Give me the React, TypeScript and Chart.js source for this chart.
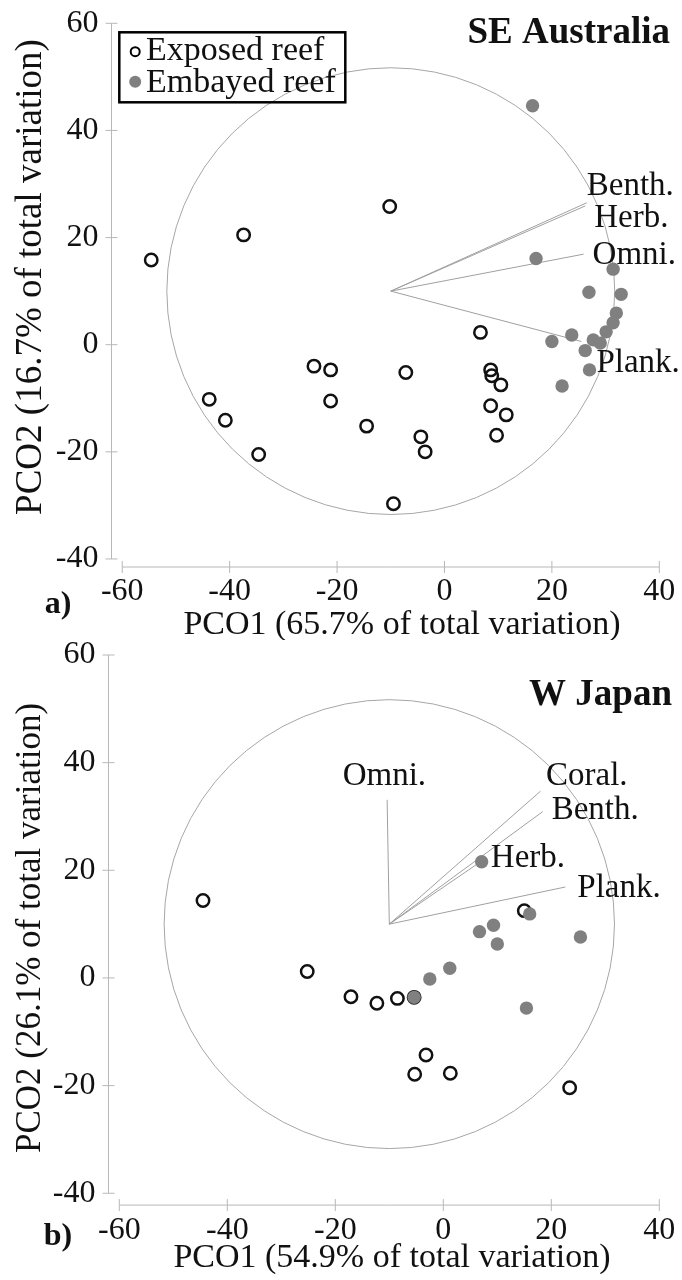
import React, { useEffect, useRef } from "react";
import { Chart, registerables } from "chart.js";

Chart.register(...registerables);

// ---------- shared tick values ----------
const X_TICKS = [-60, -40, -20, 0, 20, 40];
const Y_TICKS = [-40, -20, 0, 20, 40, 60];

// correlation circle / vector origin (data units)
const ORIGIN_X = -10;
const ORIGIN_Y = 10;
const CIRCLE_R = 41.7;

// ---------- a) SE Australia ----------
const AUS_EXPOSED_X = [6.7, -24.3, -21.2, -7.2, 8.6, 8.8, 10.5, -43.8, -21.2, 8.6, 11.5, -40.8, -14.5, -4.4, 9.7, -3.6, -34.6, -9.5, -10.2, -37.4, -54.6];
const AUS_EXPOSED_Y = [2.3, -4.0, -4.7, -5.2, -4.7, -5.8, -7.5, -10.2, -10.5, -11.4, -13.1, -14.1, -15.2, -17.2, -16.9, -20.0, -20.5, -29.7, 25.8, 20.5, 15.8];
const AUS_EMBAYED_X = [16.4, 17.05, 31.4, 26.9, 32.9, 32.0, 31.4, 30.1, 23.7, 20.0, 27.7, 29.0, 26.2, 27.0, 21.9];
const AUS_EMBAYED_Y = [44.6, 16.1, 14.1, 9.8, 9.4, 5.9, 4.1, 2.4, 1.8, 0.6, 0.9, 0.3, -1.1, -4.7, -7.7];
const AUS_VECTORS = ["Benth.", "Herb.", "Omni.", "Plank."];
const AUS_VECTOR_X = [26.5, 26.2, 25.9, 25.5];
const AUS_VECTOR_Y = [26.5, 25.9, 16.9, 0.6];

// ---------- b) W Japan ----------
const JPN_EXPOSED_X = [-44.5, 15.0, -25.2, -17.1, -12.3, -8.5, -5.4, -3.2, -5.3, 1.3, 23.4];
const JPN_EXPOSED_Y = [14.4, 12.5, 1.2, -3.5, -4.7, -3.8, -3.6, -14.3, -17.9, -17.7, -20.4];
const JPN_EMBAYED_X = [7.1, 16.0, 9.3, 6.7, 10.0, 25.4, 1.2, -2.5, -5.4, 15.4];
const JPN_EMBAYED_Y = [21.6, 11.9, 9.8, 8.6, 6.3, 7.6, 1.8, -0.2, -3.6, -5.6];
const JPN_VECTORS = ["Omni.", "Coral.", "Benth.", "Herb.", "Plank."];
const JPN_VECTOR_X = [-10.4, 18.0, 18.4, 7.5, 22.6];
const JPN_VECTOR_Y = [33.1, 34.7, 30.9, 22.0, 16.9];

const LEGEND_LABELS = ["Exposed reef", "Embayed reef"];

// ---------- styles ----------
const SERIF = "'Liberation Serif', 'Times New Roman', serif";
const TEXT = "#111111";
const AXIS_COLOR = "#b8b8b8";
const CIRCLE_COLOR = "#a6a6a6";
const VECTOR_COLOR = "#a0a0a0";
const GREY_DOT = "#808080";

type Panel = {
  key: string;
  top: number;
  pad: { left: number; right: number; top: number; bottom: number };
  xMin: number; xMax: number; yMin: number; yMax: number;
  exposedX: number[]; exposedY: number[]; embayedX: number[]; embayedY: number[];
  vectors: string[]; vecX: number[]; vecY: number[];
  labelDx: number[]; labelDy: number[];
  title: string; titleRight: number; titleBaseline: number;
  xTitle: string; xTitleX: number; xTitleY: number;
  yTitle: string; yTitleX: number; yTitleY: number; yTitleSize: number;
  panelLabel: string; panelX: number; panelY: number;
  showLegend: boolean;
};

const PANELS: Panel[] = [
  {
    key: "aus", top: 0,
    pad: { left: 111.5, right: 22.7, top: 23.3, bottom: 73 },
    xMin: -62, xMax: 40, yMin: -41.5, yMax: 60,
    exposedX: AUS_EXPOSED_X, exposedY: AUS_EXPOSED_Y, embayedX: AUS_EMBAYED_X, embayedY: AUS_EMBAYED_Y,
    vectors: AUS_VECTORS, vecX: AUS_VECTOR_X, vecY: AUS_VECTOR_Y,
    labelDx: [0, 9, 9, 15], labelDy: [-16, 12, 1, 22],
    title: "SE Australia", titleRight: 670, titleBaseline: 43,
    xTitle: "PCO1 (65.7% of total variation)", xTitleX: 402, xTitleY: 625,
    yTitle: "PCO2 (16.7% of total variation)", yTitleX: 31, yTitleY: 277, yTitleSize: 37,
    panelLabel: "a)", panelX: 58, panelY: 605,
    showLegend: true,
  },
  {
    key: "jpn", top: 640,
    pad: { left: 108.5, right: 22.7, top: 15, bottom: 74.9 },
    xMin: -62, xMax: 40, yMin: -42.2, yMax: 60,
    exposedX: JPN_EXPOSED_X, exposedY: JPN_EXPOSED_Y, embayedX: JPN_EMBAYED_X, embayedY: JPN_EMBAYED_Y,
    vectors: JPN_VECTORS, vecX: JPN_VECTOR_X, vecY: JPN_VECTOR_Y,
    labelDx: [-44.5, 5.5, 9, 7, 12], labelDy: [-23, -14.5, -1, -1, 1],
    title: "W Japan", titleRight: 672, titleBaseline: 65,
    xTitle: "PCO1 (54.9% of total variation)", xTitleX: 392, xTitleY: 618,
    yTitle: "PCO2 (26.1% of total variation)", yTitleX: 31, yTitleY: 288, yTitleSize: 35,
    panelLabel: "b)", panelX: 58, panelY: 597,
    showLegend: false,
  },
];

function makePlugin(p: Panel) {
  return {
    id: "pco-" + p.key,
    beforeDatasetsDraw(chart: any) {
      const { ctx } = chart;
      const xs = chart.scales.x;
      const ys = chart.scales.y;
      ctx.save();
      // correlation circle
      const cx = xs.getPixelForValue(ORIGIN_X);
      const cy = ys.getPixelForValue(ORIGIN_Y);
      const rx = xs.getPixelForValue(ORIGIN_X + CIRCLE_R) - cx;
      const ry = cy - ys.getPixelForValue(ORIGIN_Y + CIRCLE_R);
      ctx.strokeStyle = CIRCLE_COLOR;
      ctx.lineWidth = 1;
      ctx.beginPath();
      ctx.ellipse(cx, cy, rx, ry, 0, 0, Math.PI * 2);
      ctx.stroke();

      // detached axes
      const ax = chart.chartArea.left;
      const ay = chart.chartArea.bottom;
      ctx.strokeStyle = AXIS_COLOR;
      ctx.lineWidth = 1;
      ctx.beginPath();
      ctx.moveTo(ax, ys.getPixelForValue(Y_TICKS[Y_TICKS.length - 1]));
      ctx.lineTo(ax, ys.getPixelForValue(Y_TICKS[0]));
      for (const t of Y_TICKS) {
        const py = ys.getPixelForValue(t);
        ctx.moveTo(ax - 6, py);
        ctx.lineTo(ax + 6, py);
      }
      ctx.moveTo(xs.getPixelForValue(X_TICKS[0]), ay);
      ctx.lineTo(xs.getPixelForValue(X_TICKS[X_TICKS.length - 1]), ay);
      for (const t of X_TICKS) {
        const px = xs.getPixelForValue(t);
        ctx.moveTo(px, ay - 6);
        ctx.lineTo(px, ay + 6);
      }
      ctx.stroke();

      // tick labels
      ctx.fillStyle = TEXT;
      ctx.font = `32px ${SERIF}`;
      ctx.textAlign = "right";
      ctx.textBaseline = "middle";
      for (const t of Y_TICKS) ctx.fillText(String(t), ax - 13, ys.getPixelForValue(t));
      ctx.textAlign = "center";
      for (const t of X_TICKS) ctx.fillText(String(t), xs.getPixelForValue(t), ay + 25);

      // axis titles
      ctx.font = `34px ${SERIF}`;
      ctx.fillText(p.xTitle, p.xTitleX, p.xTitleY);
      ctx.save();
      ctx.translate(p.yTitleX, p.yTitleY);
      ctx.rotate(-Math.PI / 2);
      ctx.font = `${p.yTitleSize}px ${SERIF}`;
      ctx.fillText(p.yTitle, 0, 0);
      ctx.restore();

      // panel letter
      ctx.font = `bold 32px ${SERIF}`;
      ctx.fillText(p.panelLabel, p.panelX, p.panelY);
      ctx.restore();
    },
    afterDatasetsDraw(chart: any) {
      const { ctx } = chart;
      const xs = chart.scales.x;
      const ys = chart.scales.y;
      ctx.save();
      ctx.fillStyle = TEXT;
      // vector labels
      ctx.font = `33px ${SERIF}`;
      ctx.textAlign = "left";
      ctx.textBaseline = "middle";
      p.vectors.forEach((name, i) => {
        const px = xs.getPixelForValue(p.vecX[i]) + p.labelDx[i];
        const py = ys.getPixelForValue(p.vecY[i]) + p.labelDy[i];
        ctx.fillText(name, px, py);
      });
      // region title
      ctx.font = `bold 37px ${SERIF}`;
      ctx.textAlign = "right";
      ctx.textBaseline = "alphabetic";
      ctx.fillText(p.title, p.titleRight, p.titleBaseline);

      if (p.showLegend) {
        ctx.strokeStyle = "#000";
        ctx.lineWidth = 2.5;
        ctx.strokeRect(119.3, 32.3, 226, 70);
        ctx.font = `34px ${SERIF}`;
        ctx.textAlign = "left";
        ctx.fillText(LEGEND_LABELS[0], 146, 60);
        ctx.fillText(LEGEND_LABELS[1], 146, 92);
        ctx.lineWidth = 2;
        ctx.beginPath();
        ctx.arc(135.2, 51.7, 4.5, 0, Math.PI * 2);
        ctx.stroke();
        ctx.fillStyle = GREY_DOT;
        ctx.beginPath();
        ctx.arc(135.2, 81.7, 6, 0, Math.PI * 2);
        ctx.fill();
      }
      ctx.restore();
    },
  };
}

function PcoChart({ p }: { p: Panel }) {
  const ref = useRef<HTMLCanvasElement | null>(null);
  useEffect(() => {
    if (!ref.current) return;
    const vectorSets = p.vectors.map((name, i) => ({
      label: name,
      data: [
        { x: ORIGIN_X, y: ORIGIN_Y },
        { x: p.vecX[i], y: p.vecY[i] },
      ],
      showLine: true,
      borderColor: VECTOR_COLOR,
      borderWidth: 1,
      pointRadius: 0,
      fill: false,
      order: 3,
    }));
    const chart = new Chart(ref.current, {
      type: "scatter",
      data: {
        datasets: [
          ...vectorSets,
          {
            label: LEGEND_LABELS[0],
            data: p.exposedX.map((x, i) => ({ x, y: p.exposedY[i] })),
            pointRadius: 6.2,
            pointBorderWidth: 2.5,
            borderColor: "#111111",
            backgroundColor: "rgba(0,0,0,0)",
            pointBackgroundColor: "rgba(0,0,0,0)",
            pointBorderColor: "#111111",
            order: 2,
          },
          {
            label: LEGEND_LABELS[1],
            data: p.embayedX.map((x, i) => ({ x, y: p.embayedY[i] })),
            pointRadius: 6.7,
            pointBorderWidth: 0,
            backgroundColor: GREY_DOT,
            pointBackgroundColor: GREY_DOT,
            borderColor: GREY_DOT,
            order: 1,
          },
        ] as any,
      },
      options: {
        animation: false,
        responsive: false,
        events: [],
        layout: { padding: p.pad },
        plugins: { legend: { display: false }, tooltip: { enabled: false } },
        scales: {
          x: { type: "linear", min: p.xMin, max: p.xMax, display: false },
          y: { type: "linear", min: p.yMin, max: p.yMax, display: false },
        },
      },
      plugins: [makePlugin(p)],
    } as any);
    return () => chart.destroy();
  }, [p]);
  return (
    <div style={{ position: "absolute", left: 0, top: p.top, width: 682, height: 640 }}>
      <canvas ref={ref} width={682} height={640} style={{ display: "block", width: 682, height: 640 }} />
    </div>
  );
}

export default function App() {
  return (
    <div style={{ position: "absolute", left: 0, top: 0, width: 682, height: 1280, background: "#fff" }}>
      {PANELS.map((p) => (
        <PcoChart key={p.key} p={p} />
      ))}
    </div>
  );
}
